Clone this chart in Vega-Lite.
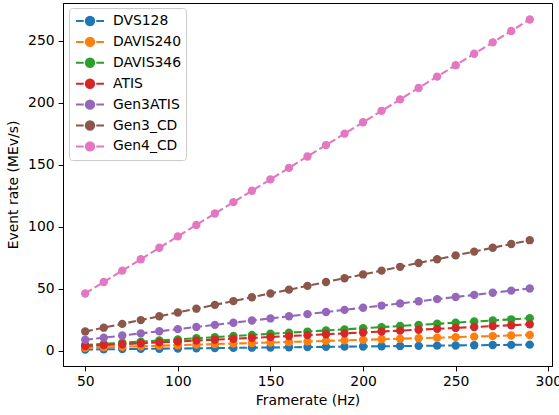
{
  "$schema": "https://vega.github.io/schema/vega-lite/v6.json",
  "width": 489,
  "height": 363,
  "autosize": {"type": "none"},
  "padding": {"left": 63, "top": 3, "right": 7, "bottom": 49},
  "background": "white",
  "config": {
    "font": "DejaVu Sans",
    "view": {"stroke": "black", "strokeWidth": 1},
    "axis": {
      "grid": false,
      "domainColor": "black",
      "tickColor": "black",
      "labelColor": "black",
      "titleColor": "black",
      "labelFontSize": 13.9,
      "titleFontSize": 13.9,
      "titleFontWeight": "normal",
      "tickSize": 4.9,
      "labelPadding": 4,
      "labelFont": "DejaVu Sans",
      "titleFont": "DejaVu Sans"
    }
  },
  "data": {
    "values": [
      {"f": 50, "DVS128": 0.819, "DAVIS240": 2.16, "DAVIS346": 4.498, "ATIS": 3.648, "Gen3ATIS": 8.64, "Gen3_CD": 15.36, "Gen4_CD": 46.08},
      {"f": 60, "DVS128": 0.983, "DAVIS240": 2.592, "DAVIS346": 5.398, "ATIS": 4.378, "Gen3ATIS": 10.368, "Gen3_CD": 18.432, "Gen4_CD": 55.296},
      {"f": 70, "DVS128": 1.147, "DAVIS240": 3.024, "DAVIS346": 6.297, "ATIS": 5.107, "Gen3ATIS": 12.096, "Gen3_CD": 21.504, "Gen4_CD": 64.512},
      {"f": 80, "DVS128": 1.311, "DAVIS240": 3.456, "DAVIS346": 7.197, "ATIS": 5.837, "Gen3ATIS": 13.824, "Gen3_CD": 24.576, "Gen4_CD": 73.728},
      {"f": 90, "DVS128": 1.475, "DAVIS240": 3.888, "DAVIS346": 8.096, "ATIS": 6.566, "Gen3ATIS": 15.552, "Gen3_CD": 27.648, "Gen4_CD": 82.944},
      {"f": 100, "DVS128": 1.638, "DAVIS240": 4.32, "DAVIS346": 8.996, "ATIS": 7.296, "Gen3ATIS": 17.28, "Gen3_CD": 30.72, "Gen4_CD": 92.16},
      {"f": 110, "DVS128": 1.802, "DAVIS240": 4.752, "DAVIS346": 9.896, "ATIS": 8.026, "Gen3ATIS": 19.008, "Gen3_CD": 33.792, "Gen4_CD": 101.376},
      {"f": 120, "DVS128": 1.966, "DAVIS240": 5.184, "DAVIS346": 10.795, "ATIS": 8.755, "Gen3ATIS": 20.736, "Gen3_CD": 36.864, "Gen4_CD": 110.592},
      {"f": 130, "DVS128": 2.13, "DAVIS240": 5.616, "DAVIS346": 11.695, "ATIS": 9.485, "Gen3ATIS": 22.464, "Gen3_CD": 39.936, "Gen4_CD": 119.808},
      {"f": 140, "DVS128": 2.294, "DAVIS240": 6.048, "DAVIS346": 12.594, "ATIS": 10.214, "Gen3ATIS": 24.192, "Gen3_CD": 43.008, "Gen4_CD": 129.024},
      {"f": 150, "DVS128": 2.458, "DAVIS240": 6.48, "DAVIS346": 13.494, "ATIS": 10.944, "Gen3ATIS": 25.92, "Gen3_CD": 46.08, "Gen4_CD": 138.24},
      {"f": 160, "DVS128": 2.621, "DAVIS240": 6.912, "DAVIS346": 14.394, "ATIS": 11.674, "Gen3ATIS": 27.648, "Gen3_CD": 49.152, "Gen4_CD": 147.456},
      {"f": 170, "DVS128": 2.785, "DAVIS240": 7.344, "DAVIS346": 15.293, "ATIS": 12.403, "Gen3ATIS": 29.376, "Gen3_CD": 52.224, "Gen4_CD": 156.672},
      {"f": 180, "DVS128": 2.949, "DAVIS240": 7.776, "DAVIS346": 16.193, "ATIS": 13.133, "Gen3ATIS": 31.104, "Gen3_CD": 55.296, "Gen4_CD": 165.888},
      {"f": 190, "DVS128": 3.113, "DAVIS240": 8.208, "DAVIS346": 17.092, "ATIS": 13.862, "Gen3ATIS": 32.832, "Gen3_CD": 58.368, "Gen4_CD": 175.104},
      {"f": 200, "DVS128": 3.277, "DAVIS240": 8.64, "DAVIS346": 17.992, "ATIS": 14.592, "Gen3ATIS": 34.56, "Gen3_CD": 61.44, "Gen4_CD": 184.32},
      {"f": 210, "DVS128": 3.441, "DAVIS240": 9.072, "DAVIS346": 18.892, "ATIS": 15.322, "Gen3ATIS": 36.288, "Gen3_CD": 64.512, "Gen4_CD": 193.536},
      {"f": 220, "DVS128": 3.604, "DAVIS240": 9.504, "DAVIS346": 19.791, "ATIS": 16.051, "Gen3ATIS": 38.016, "Gen3_CD": 67.584, "Gen4_CD": 202.752},
      {"f": 230, "DVS128": 3.768, "DAVIS240": 9.936, "DAVIS346": 20.691, "ATIS": 16.781, "Gen3ATIS": 39.744, "Gen3_CD": 70.656, "Gen4_CD": 211.968},
      {"f": 240, "DVS128": 3.932, "DAVIS240": 10.368, "DAVIS346": 21.59, "ATIS": 17.51, "Gen3ATIS": 41.472, "Gen3_CD": 73.728, "Gen4_CD": 221.184},
      {"f": 250, "DVS128": 4.096, "DAVIS240": 10.8, "DAVIS346": 22.49, "ATIS": 18.24, "Gen3ATIS": 43.2, "Gen3_CD": 76.8, "Gen4_CD": 230.4},
      {"f": 260, "DVS128": 4.26, "DAVIS240": 11.232, "DAVIS346": 23.39, "ATIS": 18.97, "Gen3ATIS": 44.928, "Gen3_CD": 79.872, "Gen4_CD": 239.616},
      {"f": 270, "DVS128": 4.424, "DAVIS240": 11.664, "DAVIS346": 24.289, "ATIS": 19.699, "Gen3ATIS": 46.656, "Gen3_CD": 82.944, "Gen4_CD": 248.832},
      {"f": 280, "DVS128": 4.588, "DAVIS240": 12.096, "DAVIS346": 25.189, "ATIS": 20.429, "Gen3ATIS": 48.384, "Gen3_CD": 86.016, "Gen4_CD": 258.048},
      {"f": 290, "DVS128": 4.751, "DAVIS240": 12.528, "DAVIS346": 26.088, "ATIS": 21.158, "Gen3ATIS": 50.112, "Gen3_CD": 89.088, "Gen4_CD": 267.264}
    ]
  },
  "transform": [
    {"fold": ["DVS128", "DAVIS240", "DAVIS346", "ATIS", "Gen3ATIS", "Gen3_CD", "Gen4_CD"], "as": ["sensor", "rate"]}
  ],
  "encoding": {
    "x": {
      "field": "f", "type": "quantitative",
      "scale": {"domain": [38, 302], "nice": false, "zero": false},
      "axis": {"values": [50, 100, 150, 200, 250, 300], "title": "Framerate (Hz)", "titlePadding": 5}
    },
    "y": {
      "field": "rate", "type": "quantitative",
      "scale": {"domain": [-12.5, 280.6], "nice": false, "zero": false},
      "axis": {"values": [0, 50, 100, 150, 200, 250], "title": "Event rate (MEv/s)", "titlePadding": 7}
    },
    "color": {
      "field": "sensor", "type": "nominal",
      "sort": ["DVS128", "DAVIS240", "DAVIS346", "ATIS", "Gen3ATIS", "Gen3_CD", "Gen4_CD"],
      "scale": {
        "domain": ["DVS128", "DAVIS240", "DAVIS346", "ATIS", "Gen3ATIS", "Gen3_CD", "Gen4_CD"],
        "range": ["#1f77b4", "#ff7f0e", "#2ca02c", "#d62728", "#9467bd", "#8c564b", "#e377c2"]
      },
      "legend": {
        "title": null,
        "orient": "none",
        "legendX": 6,
        "legendY": 5,
        "padding": 5,
        "strokeColor": "#cccccc",
        "fillColor": "rgba(255,255,255,0.8)",
        "cornerRadius": 3,
        "labelFontSize": 13.9,
        "labelColor": "black",
        "labelFont": "DejaVu Sans",
        "labelOffset": 15,
        "symbolOffset": 8,
        "rowPadding": 2.9,
        "symbolType": "M-2,0H-0.9M-0.6,0A0.6,0.6 0 1,0 0.6,0A0.6,0.6 0 1,0 -0.6,0ZM0.9,0H2",
        "symbolSize": 196,
        "symbolStrokeWidth": 2,
        "symbolFillColor": null
      }
    }
  },
  "layer": [
    {"mark": {"type": "line", "strokeDash": [7.7, 3.3], "strokeWidth": 2.08}},
    {"mark": {"type": "point", "shape": "circle", "filled": true, "opacity": 1, "size": 70}}
  ]
}
